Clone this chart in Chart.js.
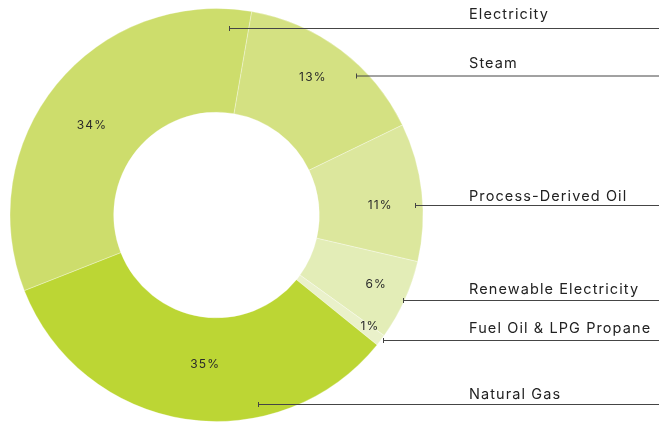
<!DOCTYPE html>
<html>
<head>
<meta charset="utf-8">
<script src="https://cdn.jsdelivr.net/npm/chart.js@4"></script>
<style>
  html, body { margin: 0; padding: 0; background: #fff; }
  #wrap { width: 659px; height: 423px; }
</style>
</head>
<body>
<div id="wrap"><canvas id="energyChart" width="659" height="423"></canvas></div>
<script>
// energy mix, clockwise from the lower-left
var categories = ['Electricity', 'Steam', 'Process-Derived Oil', 'Renewable Electricity', 'Fuel Oil & LPG Propane', 'Natural Gas'];
var shares = [33.7, 15.1, 10.8, 6.3, 0.9, 33.2];
var shareLabels = ['34%', '13%', '11%', '6%', '1%', '35%'];
var colors = ['#cddd6c', '#d4e182', '#dce79d', '#e3edb7', '#eaf1ca', '#bcd634'];

// where the % text sits inside each slice (fraction of ring width, angle nudge in deg)
var labelRadius = [0.49, 0.63, 0.59, 0.69, 0.84, 0.45];
var labelNudge = [-3.3, -2, 3, -0.8, -1.3, -4.4];

// leader lines to the category names on the right
var callouts = [
    { x0: 229, y: 28.5, ty: 19 },
    { x0: 356, y: 76, ty: 68 },
    { x0: 415, y: 205.5, ty: 201 },
    { x0: 403, y: 300.5, ty: 294 },
    { x0: 383, y: 340.5, ty: 333 },
    { x0: 258, y: 404.5, ty: 399 }
];

var labelPlugin = {
    id: 'sliceLabels',
    afterDatasetsDraw: function (chart) {
        var ctx = chart.ctx;
        var arcs = chart.getDatasetMeta(0).data;
        ctx.save();
        ctx.font = '12px Inter';
        ctx.letterSpacing = '1.2px';
        ctx.fillStyle = '#2a2a2a';
        ctx.textAlign = 'center';
        ctx.textBaseline = 'middle';
        arcs.forEach(function (arc, i) {
            var p = arc.getProps(['x', 'y', 'startAngle', 'endAngle', 'innerRadius', 'outerRadius'], true);
            var mid = (p.startAngle + p.endAngle) / 2 + labelNudge[i] * Math.PI / 180;
            var r = p.innerRadius + labelRadius[i] * (p.outerRadius - p.innerRadius);
            ctx.fillText(shareLabels[i], p.x + Math.cos(mid) * r, p.y + Math.sin(mid) * r);
        });

        // leader lines + category names
        ctx.strokeStyle = '#454545';
        ctx.lineWidth = 1;
        ctx.font = '14.5px Inter';
        ctx.letterSpacing = '1.1px';
        ctx.textAlign = 'left';
        ctx.textBaseline = 'alphabetic';
        ctx.fillStyle = '#222';
        callouts.forEach(function (c, i) {
            ctx.beginPath();
            ctx.moveTo(c.x0, c.y);
            ctx.lineTo(659, c.y);
            ctx.moveTo(c.x0 + 0.5, c.y - 2.5);
            ctx.lineTo(c.x0 + 0.5, c.y + 2.5);
            ctx.stroke();
            ctx.fillText(categories[i], 469, c.ty);
        });
        ctx.restore();
    }
};

var energyCtx = document.getElementById('energyChart').getContext('2d');
var energyChart = new Chart(energyCtx, {
    type: 'doughnut',
    data: {
        labels: categories,
        datasets: [{
            data: shares,
            backgroundColor: colors,
            borderColor: 'rgba(255,255,255,0.3)',
            borderWidth: 1
        }]
    },
    options: {
        responsive: false,
        animation: false,
        rotation: 248.5,
        cutout: '49.8%',
        layout: { padding: { left: 9, top: 8, bottom: 1, right: 235 } },
        plugins: {
            legend: { display: false },
            tooltip: { enabled: false }
        }
    },
    plugins: [labelPlugin]
});
</script>
</body>
</html>
